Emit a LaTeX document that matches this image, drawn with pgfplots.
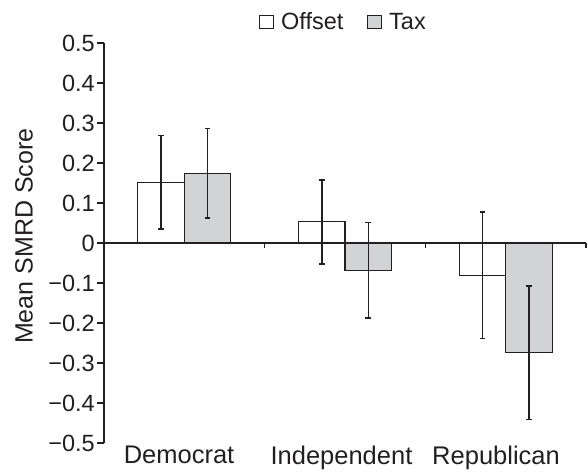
\documentclass[border=0pt]{standalone}
\usepackage{pgfplots}
\pgfplotsset{compat=1.18}
\usepackage{pgfplotstable}
\usepackage{fontspec}
\setmainfont{Liberation Sans}
\definecolor{ink}{HTML}{231F20}
\definecolor{barg}{HTML}{D1D3D4}
\pgfplotstableread{
x y e
0 0.152 0.117
1 0.053 0.105
2 -0.081 0.158
}\offsettab
\pgfplotstableread{
x y e
0 0.174 0.112
1 -0.068 0.119
2 -0.274 0.167
}\taxtab
\begin{document}
\begin{tikzpicture}
\path[use as bounding box] (0pt,0pt) rectangle (588pt,472pt);
\begin{axis}[
  at={(104pt,29pt)}, anchor=south west,
  scale only axis, width=482pt, height=400pt,
  xmin=-0.5, xmax=2.5, ymin=-0.5, ymax=0.5,
  clip=false,
  axis y line*=left,
  axis x line*=bottom,
  x axis line style={draw=none},
  y axis line style={line width=1.4pt, ink},
  xtick={-0.033,0.978,1.94},
  xticklabels={Democrat,Independent,Republican},
  x tick style={draw=none},
  xticklabel style={font=\fontsize{25.5}{29}\selectfont, text=ink, inner ysep=1pt, yshift=5pt},
  ytick={-0.5,-0.4,-0.3,-0.2,-0.1,0,0.1,0.2,0.3,0.4,0.5},
  yticklabels={−0.5,−0.4,−0.3,−0.2,−0.1,0,0.1,0.2,0.3,0.4,0.5},
  yticklabel style={font=\fontsize{23.5}{27}\selectfont, text=ink, inner xsep=2pt},
  y tick style={line width=1.2pt, ink},
  tick align=outside,
  major tick length=7pt,
  ylabel={Mean SMRD Score},
  ylabel style={font=\fontsize{25}{29}\selectfont, text=ink, inner sep=0pt, at={(axis description cs:-0.147,0.517)}, anchor=south},
  ybar=0pt, bar width=46.5pt,
  legend columns=2,
  legend style={draw=none, fill=none, at={(axis description cs:0.497,1.0525)}, anchor=center,
    font=\fontsize{23.5}{27}\selectfont, text=ink,
    /tikz/every odd column/.append style={column sep=5pt},
    /tikz/every even column/.append style={column sep=22pt},
    nodes={inner xsep=2pt}},
]
\addplot[draw=ink, fill=white, line width=1.3pt,
  legend image code/.code={\draw[draw=ink, fill=white, line width=0.8pt] (0pt,-6.5pt) rectangle (14pt,6.5pt);},
  error bars/.cd, y dir=both, y explicit,
  error bar style={line width=1.5pt, ink},
  error mark options={rotate=90, mark size=2.8pt, line width=1.5pt, ink}]
  table[x=x, y=y, y error=e] {\offsettab};
\addlegendentry{Offset}
\addplot[draw=ink, fill=barg, line width=1.3pt,
  legend image code/.code={\draw[draw=ink, fill=barg, line width=0.8pt] (0pt,-6.5pt) rectangle (14pt,6.5pt);},
  error bars/.cd, y dir=both, y explicit,
  error bar style={line width=1.5pt, ink},
  error mark options={rotate=90, mark size=2.8pt, line width=1.5pt, ink}]
  table[x=x, y=y, y error=e] {\taxtab};
\addlegendentry{Tax}
\draw[ink, line width=1.2pt] (axis cs:-0.5,0) -- (axis cs:2.5,0);
\draw[ink, line width=1.2pt] (axis cs:0.5,0) -- ++(0pt,-5pt);
\draw[ink, line width=1.2pt] (axis cs:1.5,0) -- ++(0pt,-5pt);
\draw[ink, line width=1.2pt] (axis cs:2.5,0) -- ++(0pt,-5pt);
\end{axis}
\end{tikzpicture}
\end{document}
